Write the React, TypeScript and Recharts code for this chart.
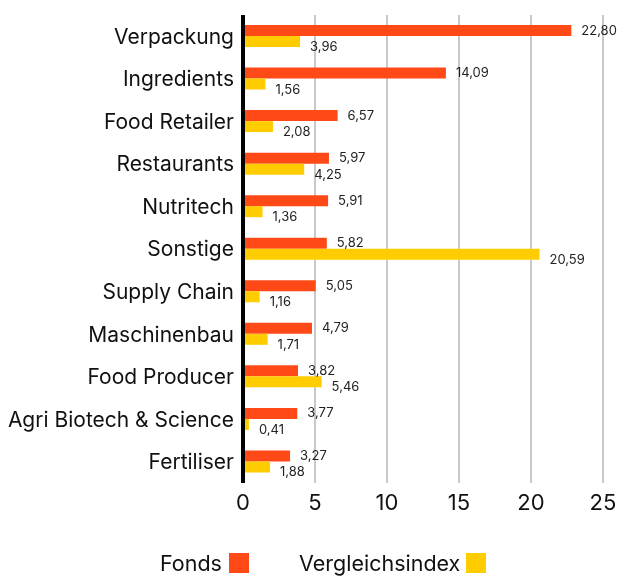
import React from "react";
import { BarChart, Bar, XAxis, YAxis, CartesianGrid, LabelList, Legend } from "recharts";

const categories = [
  "Verpackung",
  "Ingredients",
  "Food Retailer",
  "Restaurants",
  "Nutritech",
  "Sonstige",
  "Supply Chain",
  "Maschinenbau",
  "Food Producer",
  "Agri Biotech & Science",
  "Fertiliser",
];
const fondsValues = [22.8, 14.09, 6.57, 5.97, 5.91, 5.82, 5.05, 4.79, 3.82, 3.77, 3.27];
const indexValues = [3.96, 1.56, 2.08, 4.25, 1.36, 20.59, 1.16, 1.71, 5.46, 0.41, 1.88];
const xTicks = [0, 5, 10, 15, 20, 25];
const seriesNames = ["Fonds", "Vergleichsindex"];

const RED = "#FF4A17";
const YELLOW = "#FFCC00";
const FONT = "Inter, 'Noto Sans', sans-serif";

const data = categories.map((name, i) => ({
  name,
  fonds: fondsValues[i],
  index: indexValues[i],
}));

const fmt = (v: number) => v.toFixed(2).replace(".", ",");

const makeLabel = (dy: number) => (props: any) => {
  const { x, y, width, height, value } = props;
  return (
    <text
      x={Number(x) + Number(width) + 10}
      y={Number(y) + Number(height) / 2 + dy}
      dominantBaseline="central"
      fontSize={13}
      fontFamily={FONT}
      fill="#222"
    >
      {fmt(Number(value))}
    </text>
  );
};

const LegendContent = () => {
  const textStyle: React.CSSProperties = {
    position: "absolute",
    top: 30,
    height: 20,
    lineHeight: "20px",
    fontSize: 21.5,
    whiteSpace: "nowrap",
  };
  const sq: React.CSSProperties = { position: "absolute", top: 30, width: 20, height: 20 };
  return (
    <div style={{ position: "relative", height: 56, width: 612, fontFamily: FONT, color: "#111" }}>
      <span style={{ ...textStyle, left: 152 }}>{seriesNames[0]}</span>
      <span style={{ ...sq, left: 221, background: RED }} />
      <span style={{ ...textStyle, left: 291 }}>{seriesNames[1]}</span>
      <span style={{ ...sq, left: 458, background: YELLOW }} />
    </div>
  );
};

export default function App() {
  return (
    <div style={{ position: "fixed", left: 8, top: 8 }}>
      <BarChart
        width={612}
        height={571}
        data={data}
        layout="vertical"
        margin={{ top: 7, right: 17, bottom: 0, left: 0 }}
        barGap={0}
        barSize={11}
      >
        <CartesianGrid horizontal={false} stroke="#C8C8C8" strokeWidth={2} />
        <XAxis
          type="number"
          domain={[0, 25]}
          ticks={xTicks}
          axisLine={false}
          tickLine={false}
          tickSize={0}
          tickMargin={11}
          height={40}
          tick={{ fontSize: 22, fill: "#111", fontFamily: FONT }}
          interval={0}
        />
        <YAxis
          type="category"
          dataKey="name"
          width={235}
          axisLine={{ stroke: "#000", strokeWidth: 4 }}
          tickLine={false}
          tickSize={0}
          tickMargin={9}
          interval={0}
          tick={{ fontSize: 21, fill: "#111", fontFamily: FONT }}
        />
        <Legend verticalAlign="bottom" content={<LegendContent />} wrapperStyle={{ left: 0, width: 612, height: 56 }} />
        <Bar dataKey="fonds" name={seriesNames[0]} fill={RED} isAnimationActive={false}>
          <LabelList dataKey="fonds" content={makeLabel(-1)} />
        </Bar>
        <Bar dataKey="index" name={seriesNames[1]} fill={YELLOW} isAnimationActive={false}>
          <LabelList dataKey="index" content={makeLabel(4.5)} />
        </Bar>
      </BarChart>
    </div>
  );
}
